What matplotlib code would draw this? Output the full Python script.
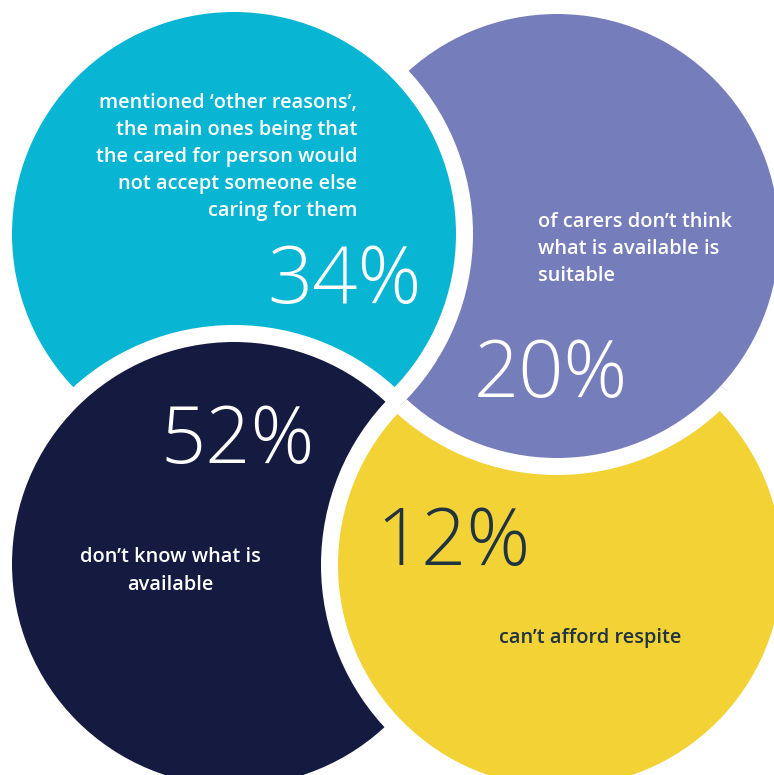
import matplotlib
matplotlib.use('Agg')
import matplotlib.pyplot as plt
import numpy as np
from matplotlib.patches import Circle, Polygon

# circle data (pixel space, y downward)
names = ['cyan', 'purple', 'navy', 'yellow']
centre_x = [234, 557, 234, 560]
centre_y = [234, 236, 564, 565]
radius = 222
colours = ['#08B5D3', '#757DBA', '#141A40', '#F2D235']

percents = ['34%', '20%', '52%', '12%']
labels = [
    'mentioned \u2018other reasons\u2019,\nthe main ones being that\nthe cared for person would\nnot accept someone else\ncaring for them',
    'of carers don\u2019t think\nwhat is available is\nsuitable',
    'don\u2019t know what is\navailable',
    'can\u2019t afford respite',
]

RING = 17
FONT = 'Open Sans'

fig = plt.figure(figsize=(7.74, 7.75), dpi=100)
ax = fig.add_axes([0, 0, 1, 1])
ax.set_xlim(0, 774)
ax.set_ylim(775, 0)
ax.set_aspect('equal')
ax.axis('off')


def disc(i, z, clip=None):
    # white ring drawn as the patch edge so there is a single composite
    c = Circle((centre_x[i], centre_y[i]), radius + RING / 2,
               facecolor=colours[i], edgecolor='white',
               linewidth=RING * 0.72, zorder=z)
    ax.add_patch(c)
    if clip is not None:
        c.set_clip_path(clip)


def circle_minus(a, ra, b, rb, n=300):
    # outline of disc a with disc b cut away (the two must intersect)
    ax_, ay_ = centre_x[a], centre_y[a]
    bx_, by_ = centre_x[b], centre_y[b]
    d = np.hypot(bx_ - ax_, by_ - ay_)
    phi = np.arctan2(by_ - ay_, bx_ - ax_)
    alpha = np.arccos((d**2 + ra**2 - rb**2) / (2 * d * ra))
    beta = np.arccos((d**2 + rb**2 - ra**2) / (2 * d * rb))
    t1 = np.linspace(phi + alpha, phi + 2 * np.pi - alpha, n)
    outer = np.column_stack([ax_ + ra * np.cos(t1), ay_ + ra * np.sin(t1)])
    psi = phi + np.pi
    t2 = np.linspace(psi - beta, psi + beta, n)
    inner = np.column_stack([bx_ + rb * np.cos(t2), by_ + rb * np.sin(t2)])
    if np.hypot(*(inner[0] - outer[-1])) > np.hypot(*(inner[-1] - outer[-1])):
        inner = inner[::-1]
    return np.vstack([outer, inner])


# cyclic overlap: cyan > purple > yellow > navy > cyan
disc(1, 1)
disc(0, 2)
disc(2, 3)
disc(3, 4)
# purple again, only where it sits over yellow (and not over cyan's ring)
clip = Polygon(circle_minus(3, radius + RING + 2, 0, radius + RING),
               closed=True, transform=ax.transData)
disc(1, 5, clip=clip)

# big numbers
big = dict(fontsize=57, family=FONT, fontweight='light', zorder=10)
ax.text(422, 303, percents[0], color='white', ha='right', va='baseline', **big)
ax.text(474, 397, percents[1], color='white', ha='left', va='baseline', **big)
ax.text(160, 463, percents[2], color='white', ha='left', va='baseline', **big)
ax.text(376, 565, percents[3], color='#1F3340', ha='left', va='baseline', **big)

small = dict(fontsize=14.4, family=FONT, fontweight='semibold', linespacing=1.48, zorder=10)
ax.text(357, 157, labels[0], color='white', ha='right', va='center', multialignment='right', **small)
ax.text(538, 249, labels[1], color='white', ha='left', va='center', multialignment='left', **small)
ax.text(170, 571, labels[2], color='white', ha='center', va='center', multialignment='center', **small)
ax.text(590, 638, labels[3], color='#1F3340', ha='center', va='center', **small)

fig.savefig('out.png', dpi=100, facecolor='white')
